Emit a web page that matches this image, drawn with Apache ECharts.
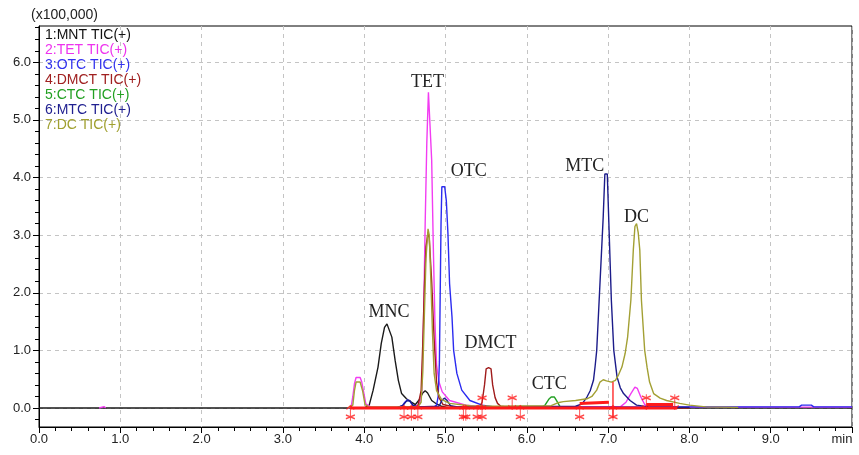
<!DOCTYPE html>
<html>
<head>
<meta charset="utf-8">
<script src="https://cdn.jsdelivr.net/npm/echarts@6/dist/echarts.min.js"></script>
<style>
  html, body { margin: 0; padding: 0; background: #fff; }
  #chart { width: 859px; height: 455px; }
</style>
</head>
<body>
<div id="chart"></div>
<script>
// retention time (min) vs intensity (x100,000)
const seriesNames = ["1:MNT TIC(+)", "2:TET TIC(+)", "3:OTC TIC(+)", "4:DMCT TIC(+)", "5:CTC TIC(+)", "6:MTC TIC(+)", "7:DC TIC(+)"];
const peakNames = ["MNC", "TET", "OTC", "DMCT", "CTC", "MTC", "DC"];
const peakTimes = [4.28, 4.79, 4.97, 5.53, 6.32, 6.97, 7.35];

const mntTrace = [
  [0, 0], [4.0, 0], [4.06, 0.04], [4.11, 0.31], [4.17, 0.71], [4.21, 1.12], [4.25, 1.4], [4.28, 1.46],
  [4.30, 1.45], [4.34, 1.23], [4.38, 0.83], [4.42, 0.48], [4.46, 0.25], [4.52, 0.16], [4.58, 0.1],
  [4.63, 0.06], [4.68, 0.15], [4.72, 0.26], [4.75, 0.3], [4.78, 0.26], [4.83, 0.13], [4.89, 0.07],
  [4.95, 0.03], [5.05, 0], [10, 0]
];
const tetTrace = [
  [0.74, 0], [0.76, 0.025], [0.80, 0.025], [0.82, 0], [0.9, "-"],
  [3.80, 0], [3.84, 0.02], [3.86, 0.2], [3.88, 0.42], [3.90, 0.53], [3.95, 0.53], [3.97, 0.45],
  [3.99, 0.3], [4.02, 0.07], [4.08, 0.02], [4.60, 0.02], [4.68, 0.06], [4.71, 0.3], [4.73, 1.5],
  [4.75, 3.2], [4.77, 4.6], [4.79, 5.48], [4.81, 5.45], [4.83, 4.3], [4.85, 2.8], [4.87, 1.5],
  [4.89, 0.75], [4.92, 0.45], [4.96, 0.28], [5.05, 0.13], [5.25, 0.05], [5.5, 0.02], [7.15, 0.02],
  [7.22, 0.1], [7.28, 0.25], [7.33, 0.36], [7.36, 0.34], [7.40, 0.2], [7.45, 0.06], [7.5, 0.02], [10, 0.015]
];
const otcTrace = [
  [4.40, 0], [4.47, 0.04], [4.50, 0.1], [4.53, 0.14], [4.56, 0.12], [4.60, 0.04], [4.65, 0.02],
  [4.86, 0.02], [4.89, 0.05], [4.91, 0.2], [4.925, 0.8], [4.935, 2.0], [4.945, 3.2], [4.955, 3.84],
  [4.99, 3.84], [5.01, 3.6], [5.03, 3.03], [5.05, 2.16], [5.08, 1.58], [5.10, 1.0], [5.14, 0.6],
  [5.2, 0.31], [5.3, 0.13], [5.45, 0.05], [5.6, 0.02], [9.35, 0.02], [9.38, 0.05], [9.50, 0.05],
  [9.53, 0.02], [10, 0.02]
];
const dmctTrace = [
  [4.40, 0], [4.66, 0.03], [4.70, 0.3], [4.72, 1.1], [4.74, 2.1], [4.76, 2.8], [4.785, 3.05],
  [4.80, 2.95], [4.83, 2.2], [4.86, 1.2], [4.89, 0.45], [4.92, 0.18], [4.97, 0.06], [5.1, 0.02],
  [5.42, 0.02], [5.45, 0.1], [5.48, 0.4], [5.50, 0.68], [5.53, 0.7], [5.56, 0.68], [5.58, 0.4],
  [5.61, 0.18], [5.64, 0.08], [5.68, 0.03], [5.8, 0.01], [8.0, 0]
];
const ctcTrace = [
  [5.5, 0], [6.18, 0.01], [6.22, 0.04], [6.27, 0.15], [6.30, 0.19], [6.34, 0.19], [6.37, 0.12],
  [6.41, 0.02], [6.5, 0.01], [7.0, 0]
];
const mtcTrace = [
  [4.40, 0], [4.48, 0.05], [4.52, 0.12], [4.56, 0.13], [4.60, 0.05], [4.65, 0.02], [4.92, 0.03],
  [4.96, 0.14], [4.99, 0.17], [5.02, 0.13], [5.06, 0.04], [5.15, 0.02], [6.60, 0.03], [6.68, 0.07],
  [6.74, 0.19], [6.78, 0.3], [6.82, 0.48], [6.84, 0.72], [6.86, 1.0], [6.88, 1.58], [6.90, 2.16],
  [6.92, 2.74], [6.94, 3.32], [6.96, 4.06], [6.99, 4.06], [7.02, 2.74], [7.04, 1.87], [7.07, 1.0],
  [7.11, 0.54], [7.15, 0.35], [7.19, 0.25], [7.27, 0.13], [7.35, 0.05], [7.5, 0.02], [8.0, 0.01]
];
const dcTrace = [
  [3.80, 0], [3.86, 0.05], [3.88, 0.3], [3.90, 0.45], [3.95, 0.45], [3.98, 0.3], [4.01, 0.06],
  [4.06, 0.02], [4.66, 0.02], [4.70, 0.1], [4.72, 0.6], [4.74, 1.6], [4.76, 2.6], [4.785, 3.11],
  [4.80, 3.0], [4.82, 2.2], [4.84, 1.3], [4.86, 0.6], [4.89, 0.3], [4.95, 0.15], [5.05, 0.08],
  [5.3, 0.04], [5.6, 0.03], [6.3, 0.04], [6.38, 0.09], [6.45, 0.11], [6.6, 0.13], [6.74, 0.16],
  [6.80, 0.2], [6.86, 0.31], [6.90, 0.45], [6.94, 0.49], [6.98, 0.47], [7.04, 0.45], [7.09, 0.48],
  [7.13, 0.58], [7.17, 0.71], [7.21, 0.95], [7.24, 1.23], [7.28, 1.87], [7.31, 2.74], [7.33, 3.15],
  [7.35, 3.2], [7.37, 3.05], [7.39, 2.74], [7.41, 1.87], [7.45, 1.0], [7.48, 0.7], [7.51, 0.45],
  [7.56, 0.25], [7.64, 0.17], [7.72, 0.13], [7.88, 0.08], [8.0, 0.05], [8.2, 0.02], [8.6, 0.01]
];
const traces = [mntTrace, tetTrace, otcTrace, dmctTrace, ctcTrace, mtcTrace, dcTrace];

// integration baselines and peak start/end marks
const integrationLine = [
  [3.83, 0], [7.85, 0], [7.9, "-"],
  [6.65, 0.08], [7.01, 0.1], [7.02, "-"],
  [7.47, 0.06], [7.80, 0.06]
];
const cutLine = [[7.06, 0.45], [7.06, -0.18]];
const markUpTimes = [3.83, 4.49, 4.58, 4.66, 5.22, 5.25, 5.39, 5.45, 5.92, 6.65, 7.06];
const markDownTimes = [5.45, 5.82, 7.47, 7.82];

const yLabelValues = [0, 1, 2, 3, 4, 5, 6];

const colors = ["#1a1a1a", "#f23cf2", "#2b2bf0", "#a01c1c", "#23a023", "#1c1c8a", "#a3a034"];
const legendColors = ["#111111", "#ee33ee", "#3333ee", "#a02020", "#22a022", "#202090", "#a0a030"];
const labelOffsets = [[2, -12], [-1, -10], [27, -15], [2, -24], [-2, -13], [-20, -8], [0, -6]];

var yMinor = [];
for (var v = -0.2; v < 6.62; v += 0.2) yMinor.push(Math.round(v * 10) / 10);

function peakOf(trace, t) {
  var best = null;
  trace.forEach(function (p) {
    if (p[1] === "-" || Math.abs(p[0] - t) > 0.06) return;
    if (!best || p[1] > best[1]) best = p;
  });
  return best;
}

var chart = echarts.init(document.getElementById("chart"), null, { renderer: "canvas" });

var series = [];
traces.forEach(function (trace, i) {
  var pk = peakOf(trace, peakTimes[i]);
  series.push({
    name: seriesNames[i],
    type: "line",
    data: trace,
    showSymbol: false,
    symbol: "none",
    connectNulls: false,
    lineStyle: { color: colors[i], width: 1.4 },
    itemStyle: { color: colors[i] },
    markPoint: {
      symbol: "circle",
      symbolSize: 0,
      silent: true,
      data: [{ coord: [pk[0], pk[1]] }],
      label: {
        show: true,
        position: "inside",
        offset: labelOffsets[i],
        formatter: peakNames[i],
        fontFamily: "Liberation Serif",
        fontSize: 18,
        color: "#222"
      }
    }
  });
});

var starPath = "path://M0,-6L0,6M-3,-3L0,-6L3,-3M-3.5,1.5L3.5,4.5M-3.5,4.5L3.5,1.5";
series.push({
  name: "integration",
  type: "line",
  data: integrationLine,
  symbol: "none",
  connectNulls: false,
  lineStyle: { color: "#ff1a1a", width: 3 },
  z: 3
});
series.push({
  name: "cut",
  type: "line",
  data: cutLine,
  symbol: "none",
  lineStyle: { color: "#ff1a1a", width: 1.3 },
  z: 3
});
series.push({
  name: "marksUp",
  type: "scatter",
  data: markUpTimes.map(function (t) { return [t, -0.09]; }),
  symbol: starPath,
  symbolSize: [9, 15],
  itemStyle: { color: "rgba(0,0,0,0)", borderColor: "#ff1a1a", borderWidth: 1.2 },
  z: 4
});
series.push({
  name: "marksDown",
  type: "scatter",
  data: markDownTimes.map(function (t) { return [t, 0.11]; }),
  symbol: starPath,
  symbolRotate: 180,
  symbolSize: [9, 15],
  itemStyle: { color: "rgba(0,0,0,0)", borderColor: "#ff1a1a", borderWidth: 1.2 },
  z: 4
});

var option = {
  animation: false,
  backgroundColor: "#fff",
  textStyle: { fontFamily: "Liberation Sans" },
  grid: {
    left: 39,
    right: 7,
    top: 26,
    bottom: 28,
    show: true,
    borderColor: "#000",
    borderWidth: 1,
    outerBoundsMode: "none"
  },
  legend: {
    orient: "vertical",
    left: 35,
    top: 23,
    icon: "none",
    itemWidth: 0,
    itemHeight: 14,
    itemGap: 0,
    selectedMode: false,
    textStyle: { fontSize: 14, lineHeight: 15 },
    data: seriesNames.map(function (n, i) {
      return { name: n, textStyle: { color: legendColors[i] } };
    })
  },
  graphic: [{
    type: "text",
    left: 31,
    top: 8,
    style: { text: "(x100,000)", font: "14px 'Liberation Sans'", fill: "#222" }
  }],
  xAxis: {
    type: "value",
    min: 0,
    max: 10,
    interval: 1,
    axisLine: { onZero: false, lineStyle: { color: "#000", width: 1 } },
    axisTick: { length: 6, lineStyle: { color: "#000" } },
    minorTick: { show: true, splitNumber: 5, length: 4, lineStyle: { color: "#000" } },
    axisLabel: {
      margin: 6,
      fontSize: 13,
      color: "#222",
      showMaxLabel: true,
      formatter: function (v) {
        return v === 10 ? "{m|min}" : v.toFixed(1);
      },
      rich: { m: { fontSize: 13, color: "#222", padding: [0, 20, 0, 0] } }
    },
    splitLine: { show: true, lineStyle: { color: "#c4c4c4", type: [4, 4], width: 1 } }
  },
  yAxis: [{
    type: "value",
    min: -0.33,
    max: 6.63,
    axisLine: { show: true, lineStyle: { color: "#000", width: 1 } },
    axisTick: { show: true, length: 6, customValues: yLabelValues, lineStyle: { color: "#000" } },
    axisLabel: {
      margin: 8,
      fontSize: 13,
      color: "#222",
      customValues: yLabelValues,
      formatter: function (v) { return v.toFixed(1); }
    },
    splitLine: { show: true, lineStyle: { color: "#c4c4c4", type: [4, 4], width: 1 } }
  }, {
    type: "value",
    min: -0.33,
    max: 6.63,
    position: "left",
    axisLine: { show: false },
    axisTick: { show: true, length: 4, customValues: yMinor, lineStyle: { color: "#000" } },
    axisLabel: { show: false },
    splitLine: { show: false }
  }],
  series: series
};

chart.setOption(option);
</script>
</body>
</html>
